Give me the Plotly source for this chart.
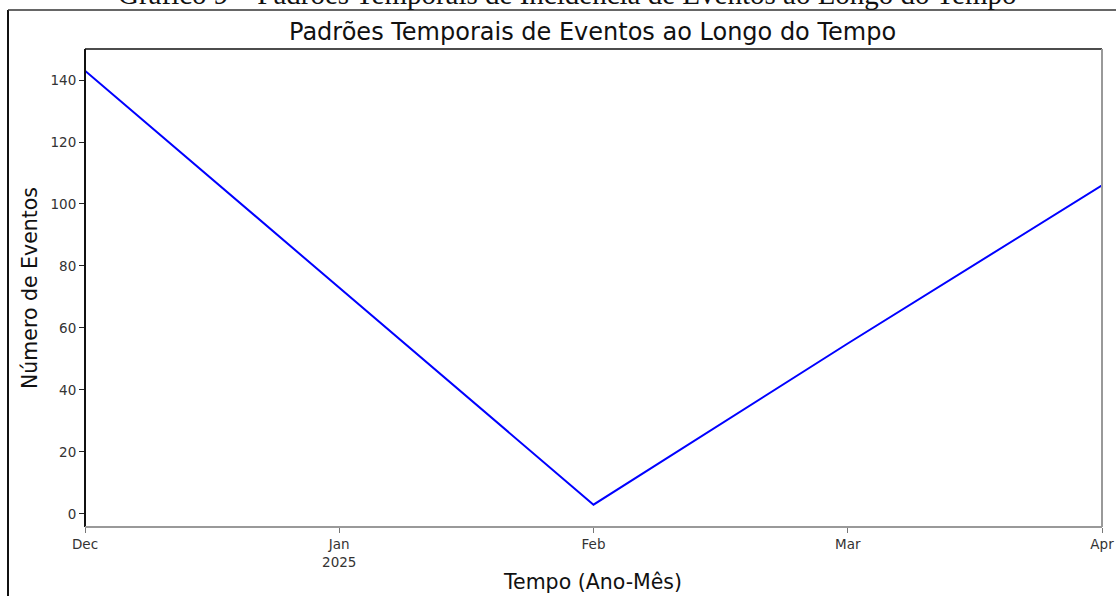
import plotly.graph_objects as go

# Data
months = ["Dec", "Jan<br>2025", "Feb", "Mar", "Apr"]
events = [143, 73, 3, 55, 106]
y_ticks = [0, 20, 40, 60, 80, 100, 120, 140]

title_text = "Padrões Temporais de Eventos ao Longo do Tempo"
caption_text = "Gráfico 9 – Padrões Temporais de Incidência de Eventos ao Longo do Tempo"
x_title = "Tempo (Ano-Mês)"
y_title = "Número de Eventos"

W, H = 1116, 596
L, R, T, B = 85, 14, 49, 69
PH = H - T - B
PW = W - L - R

def py(p):  # pixel y -> paper y
    return 1 + (T - p) / PH

def px(p):  # pixel x -> paper x
    return (p - L) / PW

fig = go.Figure()
fig.add_trace(go.Scatter(
    x=list(range(len(months))), y=events, mode="lines",
    line=dict(color="#0000ff", width=2), showlegend=False, hoverinfo="skip",
))

font = "DejaVu Sans"
fig.update_layout(
    width=W, height=H,
    margin=dict(l=L, r=R, t=T, b=B, pad=0, autoexpand=False),
    paper_bgcolor="white", plot_bgcolor="white",
    font=dict(family=font, color="#222"),
    xaxis=dict(
        range=[0, len(months) - 1], automargin=False,
        tickmode="array", tickvals=list(range(len(months))), ticktext=months,
        ticks="outside", ticklen=5, tickcolor="#777", tickwidth=1,
        showgrid=False, zeroline=False, showline=False,
        tickfont=dict(size=13.5, family=font, color="#333"),
    ),
    yaxis=dict(
        range=[-4.2, 150], automargin=False,
        tickmode="array", tickvals=y_ticks,
        ticks="outside", ticklen=5, tickcolor="#222", tickwidth=1,
        showgrid=False, zeroline=False, showline=False,
        tickfont=dict(size=13.5, family=font, color="#333"),
    ),
    shapes=[
        # plot frame
        dict(type="line", xref="paper", yref="paper", x0=0, x1=0, y0=0, y1=1,
             line=dict(color="#111", width=2)),
        dict(type="line", xref="paper", yref="paper", x0=0, x1=1, y0=1, y1=1,
             line=dict(color="#111", width=1.5)),
        dict(type="line", xref="paper", yref="paper", x0=1, x1=1, y0=0, y1=1,
             line=dict(color="#999", width=2)),
        dict(type="line", xref="paper", yref="paper", x0=0, x1=1, y0=0, y1=0,
             line=dict(color="#999", width=2)),
        # outer page border (left and top)
        dict(type="line", xref="paper", yref="paper", x0=px(8), x1=px(8), y0=py(10), y1=py(620),
             line=dict(color="#111", width=2)),
        dict(type="line", xref="paper", yref="paper", x0=px(8), x1=px(1130), y0=py(10), y1=py(10),
             line=dict(color="#333", width=1.5)),
    ],
    annotations=[
        dict(text=caption_text, xref="paper", yref="paper", x=px(567), y=py(-6),
             showarrow=False, xanchor="center", yanchor="middle",
             font=dict(family="Liberation Serif", size=29, color="#111")),
        dict(text=title_text, xref="paper", yref="paper", x=px(592), y=py(32),
             showarrow=False, xanchor="center", yanchor="middle",
             font=dict(family=font, size=24, color="#111")),
        dict(text=x_title, xref="paper", yref="paper", x=px(592), y=py(582),
             showarrow=False, xanchor="center", yanchor="middle",
             font=dict(family=font, size=20.5, color="#111")),
        dict(text=y_title, xref="paper", yref="paper", x=px(30), y=py(288),
             showarrow=False, xanchor="center", yanchor="middle", textangle=-90,
             font=dict(family=font, size=20.5, color="#111")),
    ],
)

fig.write_html(
    "out.html",
    config={"displayModeBar": False},
    post_script="document.body.style.margin='0';document.body.style.overflow='hidden';",
)
